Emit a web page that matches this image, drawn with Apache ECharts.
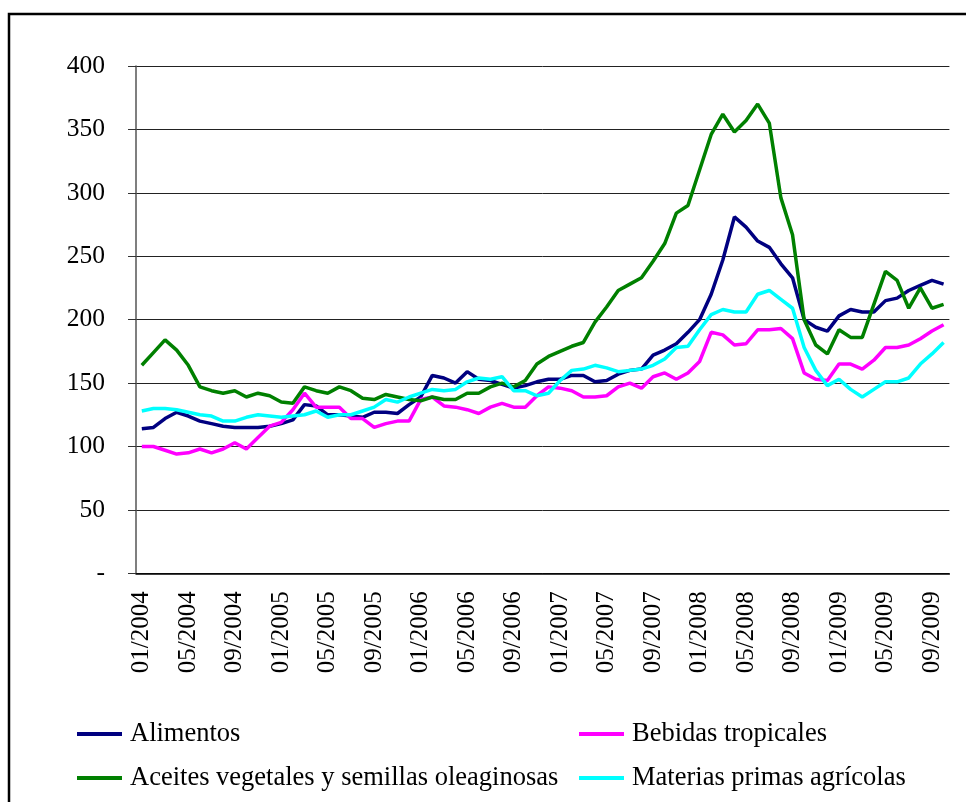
<!DOCTYPE html>
<html lang="es">
  <head>
    <meta charset="UTF-8" />
    <title>Precios de productos básicos</title>
    <script src="https://cdn.jsdelivr.net/npm/echarts@6.0.0/dist/echarts.min.js"></script>
    <style>
      html, body { margin: 0; padding: 0; background: #fff; }
      #box { width: 966px; height: 802px; }
    </style>
  </head>
  <body>
    <div id="box"></div>
    <script>
      // meses 01/2004 - 10/2009
      var meses = [];
      for (var a = 2004; a <= 2009; a++) {
        for (var m = 1; m <= 12; m++) {
          if (a === 2009 && m > 10) break;
          meses.push((m < 10 ? "0" : "") + m + "/" + a);
        }
      }

      var alimentos = [114, 115, 122, 127, 124, 120, 118, 116, 115, 115,
        115, 116, 118, 121, 133, 132, 125, 125, 124, 123,
        127, 127, 126, 133, 139, 156, 154, 150, 159, 153,
        152, 149, 146, 148, 151, 153, 153, 156, 156, 151,
        152, 157, 160, 161, 172, 176, 181, 190, 200, 220,
        247, 281, 273, 262, 257, 244, 233, 200, 194, 191,
        203, 208, 206, 206, 215, 217, 223, 227, 231, 228];
      var bebidas = [100, 100, 97, 94, 95, 98, 95, 98, 103, 98,
        107, 116, 119, 129, 142, 131, 131, 131, 122, 122,
        115, 118, 120, 120, 137, 139, 132, 131, 129, 126,
        131, 134, 131, 131, 140, 147, 146, 144, 139, 139,
        140, 147, 150, 146, 155, 158, 153, 158, 167, 190,
        188, 180, 181, 192, 192, 193, 185, 158, 153, 152,
        165, 165, 161, 168, 178, 178, 180, 185, 191, 196];
      var aceites = [164, 174, 184, 176, 164, 147, 144, 142, 144, 139,
        142, 140, 135, 134, 147, 144, 142, 147, 144, 138,
        137, 141, 139, 137, 136, 139, 137, 137, 142, 142,
        147, 150, 147, 152, 165, 171, 175, 179, 182, 198,
        210, 223, 228, 233, 246, 260, 284, 290, 318, 346,
        362, 348, 357, 370, 355, 296, 267, 200, 180, 173,
        192, 186, 186, 212, 238, 231, 209, 225, 209, 212];
      var materias = [128, 130, 130, 129, 127, 125, 124, 120, 120, 123,
        125, 124, 123, 124, 125, 128, 123, 125, 125, 128,
        131, 137, 135, 139, 142, 145, 144, 145, 151, 154,
        153, 155, 144, 144, 140, 142, 152, 160, 161, 164,
        162, 159, 160, 161, 164, 169, 178, 179, 192, 204,
        208, 206, 206, 220, 223, 216, 209, 178, 160, 148,
        153, 145, 139, 145, 151, 151, 154, 165, 173, 182];

      var fuente = '"Liberation Serif", "Times New Roman", serif';

      function linea(nombre, datos, color) {
        return {
          name: nombre,
          type: "line",
          data: datos,
          symbol: "none",
          lineStyle: { color: color, width: 3.5 },
          itemStyle: { color: color },
          animation: false,
        };
      }

      // una leyenda por elemento, para colocarlas en dos columnas
      function leyenda(nombre, izq, arriba) {
        return {
          left: izq,
          top: arriba,
          itemWidth: 45,
          itemHeight: 4,
          icon: "rect",
          padding: 0,
          data: [nombre],
          textStyle: {
            fontFamily: fuente,
            fontSize: 26.5,
            color: "#000",
            lineHeight: 30,
            padding: [0, 0, 0, 3],
          },
        };
      }

      var myChart = echarts.init(document.getElementById("box"));
      var option = {
        backgroundColor: "#fff",
        graphic: [
          {
            type: "rect",
            shape: { x: 9, y: 14, width: 980, height: 820 },
            style: { fill: "none", stroke: "#000", lineWidth: 2.5 },
          },
        ],
        grid: { left: 136, right: 16.6, top: 66, bottom: 228.7 },
        legend: [
          leyenda("Alimentos", 77, 719),
          leyenda("Aceites vegetales y semillas oleaginosas", 77, 763),
          leyenda("Bebidas tropicales", 579, 719),
          leyenda("Materias primas agrícolas", 579, 763),
        ],
        xAxis: {
          type: "category",
          data: meses,
          boundaryGap: true,
          axisLine: { lineStyle: { color: "#000", width: 1.5 } },
          axisTick: { interval: 3, length: 7, lineStyle: { color: "#000" } },
          axisLabel: {
            interval: 3,
            rotate: 90,
            margin: 18,
            color: "#000",
            fontFamily: fuente,
            fontSize: 25,
            padding: [0, 0, 20, 0],
          },
        },
        yAxis: {
          type: "value",
          min: 0,
          max: 400,
          interval: 50,
          axisLine: { show: true, lineStyle: { color: "#555", width: 1.5 } },
          axisTick: { show: true, length: 8, lineStyle: { color: "#333" } },
          axisLabel: {
            margin: 31,
            color: "#000",
            fontFamily: fuente,
            fontSize: 25.5,
            formatter: function (v) {
              return v === 0 ? "-" : v;
            },
          },
          splitLine: { show: true, lineStyle: { color: "#222", width: 1 } },
        },
        series: [
          linea("Alimentos", alimentos, "#000080"),
          linea("Bebidas tropicales", bebidas, "#FF00FF"),
          linea("Aceites vegetales y semillas oleaginosas", aceites, "#008000"),
          linea("Materias primas agrícolas", materias, "#00FFFF"),
        ],
      };
      myChart.setOption(option);
    </script>
  </body>
</html>
